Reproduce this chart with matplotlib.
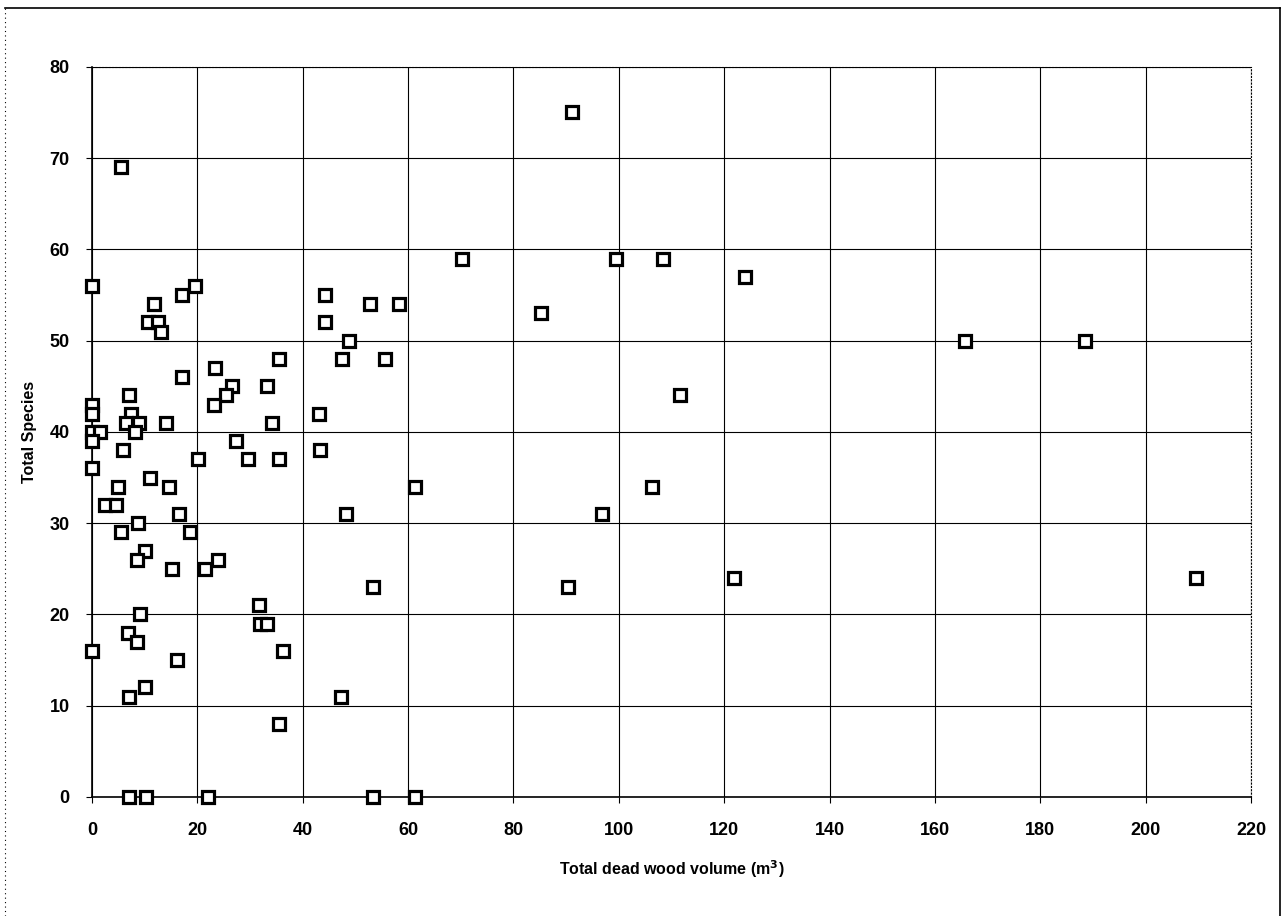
import matplotlib
matplotlib.use("Agg")
import matplotlib.pyplot as plt
from matplotlib.lines import Line2D

plt.rcParams['font.family'] = ['Liberation Sans Narrow', 'Liberation Sans', 'DejaVu Sans']
plt.rcParams['font.weight'] = 'bold'

# Dead wood volume (m3) and species count per plot
volume = [0, 19.5, 17.1, 11.8, 10.7, 12.5, 13.1, 23.3, 17.0, 26.6,
          25.4, 23.2, 7.0, 0, 0, 7.4, 6.4, 9.0, 8.2, 14.0,
          0, 1.5, 0.1, 5.9, 27.3, 29.7, 20.2, 0, 11.0, 14.7,
          4.9, 2.5, 4.6, 16.5, 8.7, 5.5, 18.6, 10.1, 8.5, 15.1,
          21.4, 24.0, 9.1, 6.8, 8.5, 0, 16.2, 10.1, 7.0, 7.1,
          10.3, 22.0, 44.2, 52.8, 44.3, 48.8, 47.4, 55.6, 35.5, 33.3,
          43.1, 34.2, 43.3, 35.5, 48.3, 53.3, 31.7, 31.9, 33.3, 36.2,
          47.2, 35.5, 53.3, 61.3, 58.3, 61.4, 5.6,
          91.2, 70.2, 99.4, 108.3, 123.9, 85.3, 111.6, 106.3, 96.9,
          90.3, 121.9, 165.8, 188.4, 209.5]
species = [56, 56, 55, 54, 52, 52, 51, 47, 46, 45,
           44, 43, 44, 43, 42, 42, 41, 41, 40, 41,
           40, 40, 39, 38, 39, 37, 37, 36, 35, 34,
           34, 32, 32, 31, 30, 29, 29, 27, 26, 25,
           25, 26, 20, 18, 17, 16, 15, 12, 11, 0,
           0, 0, 55, 54, 52, 50, 48, 48, 48, 45,
           42, 41, 38, 37, 31, 23, 21, 19, 19, 16,
           11, 8, 0, 0, 54, 34, 69,
           75, 59, 59, 59, 57, 53, 44, 34, 31,
           23, 24, 50, 50, 24]

x_ticks = list(range(0, 221, 20))
y_ticks = list(range(0, 81, 10))

fig = plt.figure(figsize=(12.86, 9.16), dpi=100)
ax = fig.add_axes([0.0715, 0.130, 0.9013, 0.797])

ax.plot(volume, species, linestyle='none', marker='s', markersize=8.5,
        markerfacecolor='white', markeredgecolor='black',
        markeredgewidth=2.3, zorder=5, clip_on=False)

ax.set_xlim(0, 220)
ax.set_ylim(0, 80)
ax.set_xticks(x_ticks)
ax.set_yticks(y_ticks)
ax.grid(True, color='black', linewidth=0.8)
ax.set_axisbelow(True)

for side in ['left', 'bottom']:
    ax.spines[side].set_linewidth(1.2)
for side in ['top', 'right']:
    ax.spines[side].set_linestyle((0, (1, 2)))
    ax.spines[side].set_linewidth(0.8)

ax.tick_params(axis='both', length=4, width=0.8, labelsize=13)
ax.tick_params(axis='x', pad=14)
ax.tick_params(axis='y', pad=12)

ax.set_xlabel('Total dead wood volume (m$^{\\mathbf{3}}$)', fontsize=11.5,
              fontweight='bold', labelpad=14)
ax.set_ylabel('Total Species', fontsize=11.5, fontweight='bold', labelpad=9)

# Outer frame around the chart
fig.add_artist(Line2D([5 / 1286, 1280 / 1286], [1 - 8 / 916, 1 - 8 / 916],
                      color='black', linewidth=1.2))
fig.add_artist(Line2D([1280 / 1286, 1280 / 1286], [0, 1 - 8 / 916],
                      color='black', linewidth=1.2))
fig.add_artist(Line2D([5 / 1286, 5 / 1286], [0, 1 - 8 / 916],
                      color='black', linewidth=0.8, linestyle=(0, (1, 3))))

fig.savefig('out.png', dpi=100)
